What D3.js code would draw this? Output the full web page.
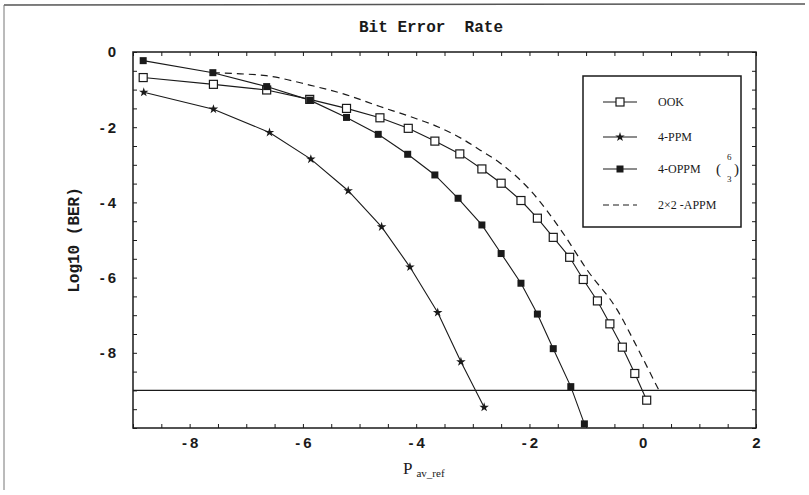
<!DOCTYPE html>
<html><head><meta charset="utf-8">
<script src="https://cdn.jsdelivr.net/npm/d3@7"></script>
<style>
html,body{margin:0;padding:0;background:#fff;}
svg{display:block;}
</style></head>
<body>
<svg id="c" width="809" height="495"></svg>
<script>
// ---------- data ----------
const ookX = [-8.82,-7.58,-6.64,-5.88,-5.23,-4.64,-4.14,-3.67,-3.23,-2.84,-2.50,-2.15,-1.86,-1.58,-1.29,-1.05,-0.80,-0.58,-0.36,-0.14,0.07];
const ookY = [-0.68,-0.86,-1.01,-1.26,-1.50,-1.75,-2.03,-2.37,-2.71,-3.11,-3.49,-3.95,-4.42,-4.93,-5.46,-6.05,-6.62,-7.23,-7.85,-8.55,-9.26];
const ppmX = [-8.81,-7.58,-6.59,-5.86,-5.20,-4.61,-4.11,-3.62,-3.21,-2.80];
const ppmY = [-1.07,-1.52,-2.14,-2.85,-3.69,-4.65,-5.72,-6.93,-8.24,-9.45];
const oppmX = [-8.82,-7.59,-6.64,-5.88,-5.23,-4.67,-4.15,-3.67,-3.26,-2.84,-2.50,-2.15,-1.86,-1.58,-1.27,-1.03];
const oppmY = [-0.23,-0.55,-0.92,-1.28,-1.74,-2.19,-2.72,-3.27,-3.89,-4.60,-5.36,-6.15,-6.97,-7.89,-8.90,-9.89];
const appmX = [-7.59,-7.10,-6.65,-5.88,-5.23,-4.64,-4.10,-3.60,-3.20,-2.87,-2.52,-1.99,-1.41,-0.98,-0.45,-0.10,0.22,0.28];
const appmY = [-0.55,-0.58,-0.63,-0.88,-1.14,-1.45,-1.72,-2.00,-2.30,-2.61,-2.95,-3.67,-4.81,-5.80,-6.86,-7.85,-8.80,-8.98];
const berLimit = -9;
const xTickLabels = [-8,-6,-4,-2,0,2];
const yTickLabels = [0,-2,-4,-6,-8];
const legendNames = ["OOK","4-PPM","4-OPPM","2\u00d72 -APPM"];
const titleText = "Bit Error  Rate";
const yLabelText = "Log10 (BER)";

// ---------- layout ----------
const svg = d3.select("#c");
const ink = "#1a1a1a";
const x = d3.scaleLinear().domain([-9,2]).range([133,756]);
const y = d3.scaleLinear().domain([-10,0]).range([428,52]);

// outer scan border
svg.append("line").attr("x1",4).attr("x2",805).attr("y1",5).attr("y2",4).attr("stroke","#555").attr("stroke-width",1.5);
svg.append("line").attr("x1",4).attr("x2",4).attr("y1",5).attr("y2",490).attr("stroke","#777").attr("stroke-width",1);

// frame
svg.append("rect").attr("x",x(-9)).attr("y",y(0)).attr("width",x(2)-x(-9)).attr("height",y(-10)-y(0))
  .attr("fill","none").attr("stroke",ink).attr("stroke-width",1.5);

// minor ticks (inward), all four sides
const xMinor = d3.range(-9,2.001,0.5);
const yMinor = d3.range(-10,0.001,0.5);
const tickLen = 4;
function noLabel(){ return ""; }
svg.append("g").attr("transform",`translate(0,${y(-10)})`)
  .call(d3.axisBottom(x).tickValues(xMinor).tickSize(-tickLen).tickFormat(noLabel))
  .call(g=>{g.select(".domain").remove(); g.selectAll("line").attr("stroke",ink);});
svg.append("g").attr("transform",`translate(0,${y(0)})`)
  .call(d3.axisTop(x).tickValues(xMinor).tickSize(-tickLen).tickFormat(noLabel))
  .call(g=>{g.select(".domain").remove(); g.selectAll("line").attr("stroke",ink);});
svg.append("g").attr("transform",`translate(${x(-9)},0)`)
  .call(d3.axisLeft(y).tickValues(yMinor).tickSize(-tickLen).tickFormat(noLabel))
  .call(g=>{g.select(".domain").remove(); g.selectAll("line").attr("stroke",ink);});
svg.append("g").attr("transform",`translate(${x(2)},0)`)
  .call(d3.axisRight(y).tickValues(yMinor).tickSize(-tickLen).tickFormat(noLabel))
  .call(g=>{g.select(".domain").remove(); g.selectAll("line").attr("stroke",ink);});

const fmt = d => d < 0 ? "-\u2009" + Math.abs(d) : String(d);
const tickFont = "'Liberation Sans Narrow','Liberation Sans',Arial,sans-serif";
svg.append("g").attr("transform",`translate(0,${y(-10)})`)
  .call(d3.axisBottom(x).tickValues(xTickLabels).tickSize(0).tickPadding(9).tickFormat(fmt))
  .call(g=>{g.select(".domain").remove();
    g.selectAll("text").attr("font-family",tickFont).attr("font-weight","bold").attr("font-size",15).attr("fill",ink);});
svg.append("g").attr("transform",`translate(${x(-9)},0)`)
  .call(d3.axisLeft(y).tickValues(yTickLabels).tickSize(0).tickPadding(17).tickFormat(fmt))
  .call(g=>{g.select(".domain").remove();
    g.selectAll("text").attr("font-family",tickFont).attr("font-weight","bold").attr("font-size",15).attr("fill",ink);});

// BER limit line
svg.append("line").attr("x1",x(-9)).attr("x2",x(2)).attr("y1",y(berLimit)).attr("y2",y(berLimit))
  .attr("stroke",ink).attr("stroke-width",1.2);

// series
const line = d3.line().x(d=>x(d[0])).y(d=>y(d[1]));
const zip = (a,b)=>a.map((v,i)=>[v,b[i]]);
const ook = zip(ookX,ookY), ppm = zip(ppmX,ppmY), oppm = zip(oppmX,oppmY), appm = zip(appmX,appmY);

svg.append("path").datum(appm).attr("d",line.curve(d3.curveMonotoneX)).attr("fill","none")
  .attr("stroke",ink).attr("stroke-width",1.2).attr("stroke-dasharray","7,5");
line.curve(d3.curveLinear);
[ook,ppm,oppm].forEach(s=>{
  svg.append("path").datum(s).attr("d",line).attr("fill","none").attr("stroke",ink).attr("stroke-width",1.1);
});

const sq = 8, fsq = 7;
svg.append("g").selectAll("rect").data(ook).join("rect")
  .attr("x",d=>x(d[0])-sq/2).attr("y",d=>y(d[1])-sq/2).attr("width",sq).attr("height",sq)
  .attr("fill","#fff").attr("stroke",ink).attr("stroke-width",1.2);
svg.append("g").selectAll("rect").data(oppm).join("rect")
  .attr("x",d=>x(d[0])-fsq/2).attr("y",d=>y(d[1])-fsq/2).attr("width",fsq).attr("height",fsq)
  .attr("fill",ink);
const star = d3.symbol().type(d3.symbolStar).size(28);
svg.append("g").selectAll("path").data(ppm).join("path")
  .attr("transform",d=>`translate(${x(d[0])},${y(d[1])})`).attr("d",star).attr("fill",ink);

// title & axis labels
const monoFont = "'Liberation Mono','DejaVu Sans Mono',monospace";
svg.append("text").attr("x",431).attr("y",32).attr("text-anchor","middle")
  .attr("font-family",monoFont).attr("font-weight","bold").attr("font-size",16)
  .attr("fill",ink).attr("xml:space","preserve").style("white-space","pre").text(titleText);
svg.append("text").attr("transform","translate(79,240) rotate(-90)").attr("text-anchor","middle")
  .attr("font-family",monoFont).attr("font-weight","bold").attr("font-size",16).attr("fill",ink).text(yLabelText);
const xl = svg.append("text").attr("x",403).attr("y",474).attr("font-family","'Liberation Serif',serif").attr("fill",ink);
xl.append("tspan").attr("font-size",17).text("P");
xl.append("tspan").attr("font-size",11).attr("dx",4).attr("dy",3).text("av_ref");

// legend
const lg = svg.append("g");
lg.append("rect").attr("x",583).attr("y",76).attr("width",158).attr("height",151)
  .attr("fill","#fff").attr("stroke",ink).attr("stroke-width",1.5);
const ly = [102,137,169,205];
const legFont = "'Liberation Serif',serif";
legendNames.forEach((n,i)=>{
  const yy = ly[i];
  lg.append("line").attr("x1",603).attr("x2",637).attr("y1",yy).attr("y2",yy).attr("stroke",ink)
    .attr("stroke-width",1.1).attr("stroke-dasharray", i===3 ? "6,4" : null);
  if(i===0) lg.append("rect").attr("x",616).attr("y",yy-4).attr("width",8).attr("height",8).attr("fill","#fff").attr("stroke",ink).attr("stroke-width",1.2);
  if(i===1) lg.append("path").attr("transform",`translate(620,${yy})`).attr("d",star).attr("fill",ink);
  if(i===2) lg.append("rect").attr("x",616.5).attr("y",yy-3.5).attr("width",7).attr("height",7).attr("fill",ink);
  lg.append("text").attr("x",658).attr("y",yy+4).attr("font-family",legFont).attr("font-size",12).attr("fill",ink).text(n);
});
// binomial (6 over 3)
lg.append("text").attr("x",716).attr("y",174).attr("font-family",legFont).attr("font-size",15).attr("fill",ink).text("(");
lg.append("text").attr("x",727).attr("y",160).attr("font-family",legFont).attr("font-size",9).attr("fill",ink).text("6");
lg.append("text").attr("x",727).attr("y",182).attr("font-family",legFont).attr("font-size",9).attr("fill",ink).text("3");
lg.append("text").attr("x",734).attr("y",174).attr("font-family",legFont).attr("font-size",15).attr("fill",ink).text(")");
</script>
</body></html>
